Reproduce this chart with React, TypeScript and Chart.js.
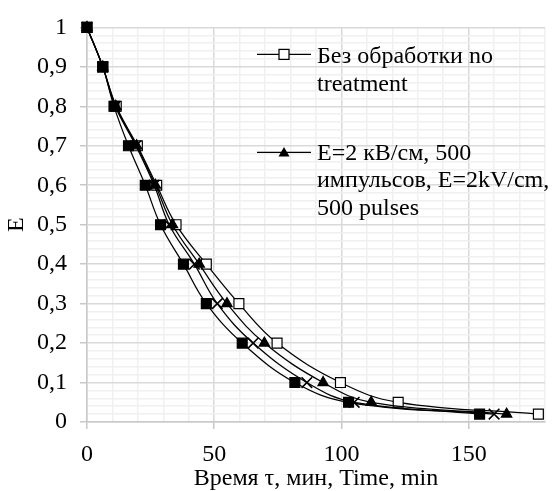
import React, { useEffect, useRef } from 'react';
import { Chart, registerables } from 'chart.js';

Chart.register(...registerables);

// ---- data ----
const yValues = [1, 0.9, 0.8, 0.7, 0.6, 0.5, 0.4, 0.3, 0.2, 0.1, 0.05, 0.02];
const xNoTreatment = [0, 6.2, 11.5, 19.8, 27.4, 35.0, 46.9, 59.7, 74.7, 99.6, 122.3, 177.4];
const xPulses500 = [0, 6.2, 11.3, 19.5, 26.9, 33.6, 44.1, 55.0, 69.7, 92.8, 111.7, 164.9];
const xSeries3 = [0, 6.2, 11.1, 19.2, 26.4, 32.3, 42.2, 51.2, 65.3, 86.4, 105.0, 160.0];
const xSeries4 = [0, 6.2, 10.6, 16.3, 22.9, 28.9, 37.9, 46.9, 61.0, 81.7, 102.8, 154.3];

const seriesNames = [
  'Без обработки no treatment',
  'E=2 кВ/см, 500 импульсов, E=2kV/cm, 500 pulses',
  'Серия 3',
  'Серия 4',
];
const legendLines = [
  ['Без обработки no', 'treatment'],
  ['E=2 кВ/см, 500', 'импульсов, E=2kV/cm,', '500 pulses'],
];
const xAxisTitle = 'Время τ, мин, Time, min';
const yAxisTitle = 'E';
const xMajorStep = 50;
const yMajorStep = 0.1;

const FONT = "'Liberation Serif', 'Times New Roman', serif";

function pts(xs: number[]) {
  return xs.map((x, i) => ({ x, y: yValues[i] }));
}

const isMajorX = (v: number) => Math.abs(v / xMajorStep - Math.round(v / xMajorStep)) < 1e-6;
const isMajorY = (v: number) => Math.abs(v / yMajorStep - Math.round(v / yMajorStep)) < 1e-6;

const legendPlugin = {
  id: 'customLegend',
  afterDatasetsDraw(chart: any) {
    const ctx = chart.ctx as CanvasRenderingContext2D;
    const area = chart.chartArea;
    const lx0 = area.left + 170;
    const lx1 = area.left + 224;
    const mx = area.left + 197;
    const tx = area.left + 230;
    const entries = [
      { y: area.top + 27, baselines: [area.top + 36, area.top + 64], style: 'rect' },
      { y: area.top + 125, baselines: [area.top + 133, area.top + 160, area.top + 188], style: 'triangle' },
    ];
    ctx.save();
    entries.forEach((e, i) => {
      ctx.strokeStyle = '#000';
      ctx.lineWidth = 1.25;
      ctx.beginPath();
      ctx.moveTo(lx0, e.y);
      ctx.lineTo(lx1, e.y);
      ctx.stroke();
      if (e.style === 'rect') {
        ctx.fillStyle = '#fff';
        ctx.fillRect(mx - 5, e.y - 5, 10, 10);
        ctx.strokeRect(mx - 5, e.y - 5, 10, 10);
      } else {
        ctx.fillStyle = '#000';
        ctx.beginPath();
        ctx.moveTo(mx, e.y - 5.5);
        ctx.lineTo(mx + 5.5, e.y + 4);
        ctx.lineTo(mx - 5.5, e.y + 4);
        ctx.closePath();
        ctx.fill();
      }
      ctx.fillStyle = '#000';
      ctx.font = `24px ${FONT}`;
      ctx.textAlign = 'left';
      ctx.textBaseline = 'alphabetic';
      legendLines[i].forEach((t, j) => ctx.fillText(t, tx, e.baselines[j]));
    });
    ctx.restore();
  },
};

export default function App() {
  const ref = useRef<HTMLCanvasElement | null>(null);

  useEffect(() => {
    document.body.style.margin = '0';
    const canvas = ref.current;
    if (!canvas) return;

    const common = {
      borderColor: '#000',
      borderWidth: 1.25,
      showLine: true,
      tension: 0.4,
      clip: false,
      pointBorderColor: '#000',
      pointBorderWidth: 1.2,
    };

    const chart = new Chart(canvas, {
      type: 'scatter',
      data: {
        datasets: [
          {
            ...common,
            label: seriesNames[0],
            data: pts(xNoTreatment),
            pointStyle: 'rect',
            pointRadius: 7,
            pointBackgroundColor: '#fff',
            order: 3,
          },
          {
            ...common,
            label: seriesNames[1],
            data: pts(xPulses500),
            pointStyle: 'triangle',
            pointRadius: 6,
            pointBackgroundColor: '#000',
            order: 2,
          },
          {
            ...common,
            label: seriesNames[2],
            data: pts(xSeries3),
            pointStyle: 'crossRot',
            pointRadius: 7.5,
            pointBorderWidth: 1.6,
            pointBackgroundColor: '#000',
            order: 1,
          },
          {
            ...common,
            label: seriesNames[3],
            data: pts(xSeries4),
            pointStyle: 'rect',
            pointRadius: 7,
            pointBackgroundColor: '#000',
            order: 0,
          },
        ],
      },
      options: {
        animation: false,
        responsive: false,
        layout: { padding: { top: 22, right: 1, left: 0, bottom: 0 } },
        plugins: {
          legend: { display: false },
          tooltip: { enabled: false },
        },
        scales: {
          x: {
            type: 'linear',
            min: 0,
            max: 180,
            afterFit: (s: any) => {
              s.height = 69;
            },
            ticks: {
              stepSize: 10,
              autoSkip: false,
              maxRotation: 0,
              padding: 11,
              color: '#000',
              font: { family: FONT, size: 24 },
              callback: (v: any) => (isMajorX(Number(v)) && Number(v) < 180 ? String(v) : ''),
            },
            grid: {
              color: (c: any) => (c.tick && isMajorX(c.tick.value) ? '#d9d9d9' : '#f0f0f0'),
              tickColor: (c: any) => (c.tick && isMajorX(c.tick.value) && c.tick.value < 180 ? '#c8c8c8' : 'rgba(0,0,0,0)'),
              tickLength: 7,
              lineWidth: 1.5,
            },
            border: { display: true, color: '#c8c8c8', width: 1.5 },
            title: {
              display: true,
              text: xAxisTitle,
              color: '#000',
              font: { family: FONT, size: 24, lineHeight: 1 },
              padding: { top: 0, bottom: 0 },
            },
          },
          y: {
            type: 'linear',
            min: 0,
            max: 1,
            afterFit: (s: any) => {
              s.width = 87;
            },
            ticks: {
              stepSize: 0.02,
              autoSkip: false,
              padding: 13,
              color: '#000',
              font: { family: FONT, size: 24 },
              callback: (v: any) => {
                const n = Number(v);
                return isMajorY(n) ? String(Math.round(n * 10) / 10).replace('.', ',') : '';
              },
            },
            grid: {
              color: (c: any) => (c.tick && isMajorY(c.tick.value) ? '#d9d9d9' : '#f0f0f0'),
              tickColor: (c: any) => (c.tick && isMajorY(c.tick.value) ? '#c8c8c8' : 'rgba(0,0,0,0)'),
              tickLength: 7,
              lineWidth: 1.5,
            },
            border: { display: true, color: '#c8c8c8', width: 1.5 },
            title: {
              display: true,
              text: yAxisTitle,
              color: '#000',
              font: { family: FONT, size: 24, lineHeight: 1 },
              padding: { top: 5, bottom: 0 },
            },
          },
        },
      },
      plugins: [legendPlugin],
    } as any);

    return () => chart.destroy();
  }, []);

  return (
    <div style={{ width: 556, height: 491 }}>
      <canvas ref={ref} width={556} height={491} style={{ width: 556, height: 491, display: 'block' }} />
    </div>
  );
}
